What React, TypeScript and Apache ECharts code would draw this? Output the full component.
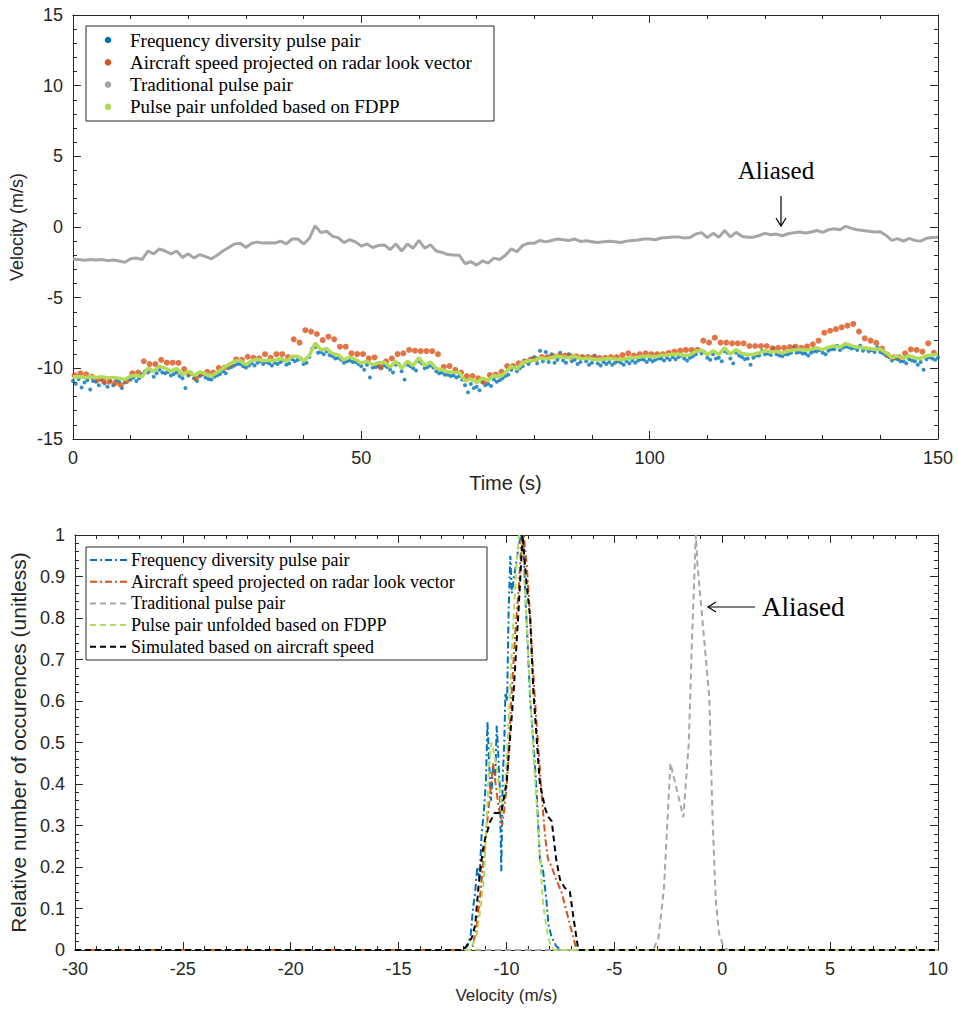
import React, { useEffect, useRef } from "react";
import * as echarts from "echarts";

// ---------- Top panel: velocity time series ----------
// Traditional pulse pair (aliased), one value per second, t = 0..150 s
const traditionalVel = [
  -2.29, -2.3, -2.35, -2.3, -2.34, -2.3, -2.38, -2.34, -2.4, -2.5,
  -2.25, -2.2, -2.3, -1.7, -1.9, -1.55, -1.7, -1.9, -1.7, -2.15,
  -1.9, -2.2, -1.95, -2.1, -2.25, -2.0, -1.7, -1.45, -1.2, -1.15,
  -1.45, -1.15, -1.07, -1.14, -1.12, -1.14, -1.0, -1.2, -0.85, -0.85,
  -1.2, -0.8, 0.1, -0.4, -0.3, -0.65, -0.75, -1.1, -0.9, -1.05,
  -1.35, -1.2, -1.45, -1.3, -1.27, -1.6, -1.2, -1.7, -1.2, -1.5,
  -0.95, -1.5, -1.25, -1.7, -1.8, -1.95, -1.98, -2.0, -2.6, -2.45,
  -2.7, -2.4, -2.55, -2.2, -2.3, -2.0, -1.55, -1.75, -1.3, -1.15,
  -1.15, -0.95, -1.05, -0.95, -0.85, -0.9, -0.95, -0.85, -1.02, -0.98,
  -1.04, -1.1, -1.04, -1.0, -1.04, -1.1, -1.0, -0.95, -0.92, -0.85,
  -0.85, -0.9, -0.78, -0.75, -0.7, -0.7, -0.78, -0.75, -0.5, -0.4,
  -0.75, -0.45, -0.72, -0.25, -0.7, -0.38, -0.65, -0.72, -0.72, -0.6,
  -0.45, -0.55, -0.5, -0.62, -0.48, -0.4, -0.35, -0.42, -0.35, -0.25,
  -0.38, -0.2, -0.12, -0.2, 0.05, -0.1, -0.2, -0.25, -0.3, -0.35,
  -0.33, -0.6, -0.95, -0.82, -1.0, -0.8, -0.95, -1.0, -0.8, -0.75,
  -0.72,
];

// Pulse pair unfolded based on FDPP, one value per second, t = 0..150 s
const unfoldedVel = [
  -10.59, -10.6, -10.65, -10.6, -10.64, -10.6, -10.68, -10.64, -10.7, -10.8,
  -10.55, -10.5, -10.6, -10.0, -10.2, -9.85, -10.0, -10.2, -10.0, -10.45,
  -10.2, -10.5, -10.25, -10.4, -10.55, -10.3, -10.0, -9.75, -9.5, -9.45,
  -9.75, -9.45, -9.37, -9.44, -9.42, -9.44, -9.3, -9.5, -9.15, -9.15,
  -9.5, -9.1, -8.2, -8.7, -8.6, -8.95, -9.05, -9.4, -9.2, -9.35,
  -9.65, -9.5, -9.75, -9.6, -9.57, -9.9, -9.5, -10.0, -9.5, -9.8,
  -9.25, -9.8, -9.55, -10.0, -10.1, -10.25, -10.28, -10.3, -10.9, -10.75,
  -11.0, -10.7, -10.85, -10.5, -10.6, -10.3, -9.85, -10.05, -9.6, -9.45,
  -9.45, -9.25, -9.35, -9.25, -9.15, -9.2, -9.25, -9.15, -9.32, -9.28,
  -9.34, -9.4, -9.34, -9.3, -9.34, -9.4, -9.3, -9.25, -9.22, -9.15,
  -9.15, -9.2, -9.08, -9.05, -9.0, -9.0, -9.08, -9.05, -8.8, -8.7,
  -9.05, -8.75, -9.02, -8.55, -9.0, -8.68, -8.95, -9.02, -9.02, -8.9,
  -8.75, -8.85, -8.8, -8.92, -8.78, -8.7, -8.65, -8.72, -8.65, -8.55,
  -8.68, -8.5, -8.42, -8.5, -8.25, -8.4, -8.5, -8.55, -8.6, -8.65,
  -8.63, -8.9, -9.25, -9.12, -9.3, -9.1, -9.25, -9.3, -9.1, -9.05,
  -9.02,
];

// Frequency diversity pulse pair, two values per second, t = 0..150 s (step 0.5 s)
const fdppStep = 0.5;
const fdppVel = [
  -10.9, -11.1, -10.75, -11.35, -11.0, -10.85, -11.5, -10.9, -10.95, -11.2,
  -10.8, -11.05, -11.3, -10.9, -11.2, -10.85, -10.95, -11.4, -11.0, -10.75,
  -10.8, -10.65, -10.9, -10.7, -10.4, -10.2, -10.3, -10.15, -10.6, -10.35,
  -10.1, -10.3, -10.35, -10.25, -10.5, -10.4, -10.3, -10.55, -10.7, -11.4,
  -10.5, -10.35, -10.7, -10.9, -10.55, -10.4, -10.65, -10.75, -10.8, -10.6,
  -10.5, -10.4, -10.2, -10.35, -10.0, -9.9, -9.8, -9.7, -9.7, -9.85,
  -9.95, -9.8, -9.65, -9.8, -9.6, -9.5, -9.7, -9.55, -9.65, -9.8,
  -9.6, -9.7, -9.55, -9.45, -9.75, -9.65, -9.35, -9.5, -9.4, -9.3,
  -9.7, -9.6, -9.2, -8.6, -8.5, -8.9, -8.85, -9.0, -8.8, -9.05,
  -9.15, -9.3, -9.25, -9.4, -9.6, -9.5, -9.45, -9.55, -9.55, -9.7,
  -9.85, -10.1, -9.75, -10.65, -9.95, -9.9, -9.85, -10.0, -9.8, -9.9,
  -10.1, -10.3, -9.75, -9.7, -10.2, -10.8, -9.75, -9.85, -10.0, -10.15,
  -9.5, -9.65, -10.0, -9.9, -9.8, -9.95, -10.2, -10.35, -10.3, -10.45,
  -10.45, -10.55, -10.5, -10.65, -10.55, -10.8, -11.2, -11.7, -11.1, -11.4,
  -11.3, -11.55, -11.0, -11.2, -11.1, -11.25, -10.8, -10.95, -10.85, -10.7,
  -10.55, -10.45, -10.1, -9.9, -10.2, -10.0, -9.85, -9.5, -9.7, -9.3,
  -9.2, -9.65, -8.75, -9.5, -8.85, -9.55, -9.0, -9.6, -9.4, -8.9,
  -9.45, -9.6, -9.0, -9.5, -9.4, -9.7, -9.55, -9.2, -9.5, -9.75,
  -9.6, -9.1, -9.65, -9.8, -9.55, -9.7, -9.55, -9.75, -9.6, -9.5,
  -9.6, -9.75, -9.5, -9.65, -9.45, -9.6, -9.45, -9.35, -9.4, -9.55,
  -9.35, -9.5, -9.4, -9.3, -9.3, -9.45, -9.25, -9.4, -9.2, -9.35,
  -9.2, -9.1, -9.3, -9.45, -9.25, -9.15, -9.0, -8.7, -8.95, -8.85,
  -9.25, -9.4, -9.0, -9.3, -9.25, -9.5, -8.8, -8.9, -9.3, -9.65,
  -8.9, -9.1, -9.2, -9.35, -9.3, -9.75, -9.25, -9.1, -9.1, -8.75,
  -9.0, -8.95, -9.05, -8.6, -9.0, -9.1, -9.15, -9.0, -9.0, -8.9,
  -8.5, -8.9, -8.85, -8.95, -8.95, -9.1, -8.9, -8.8, -8.8, -8.7,
  -8.9, -9.0, -8.75, -8.65, -8.65, -8.4, -8.7, -8.55, -8.45, -8.5,
  -8.6, -8.55, -8.7, -8.4, -8.75, -8.6, -8.8, -8.7, -8.85, -8.5,
  -8.85, -8.95, -9.1, -9.2, -9.45, -9.3, -9.35, -9.5, -9.5, -9.65,
  -9.35, -9.45, -9.5, -9.75, -9.55, -10.1, -9.35, -9.2, -9.3, -9.4,
  -9.25,
];

// Aircraft speed projected on radar look vector, one value per second, t = 0.3 + i
const aircraftStart = 0.3;
const aircraftVel = [
  -10.5, -10.35, -10.42, -10.6, -10.8, -10.9, -10.95, -11.05, -11.18, -10.9,
  -10.35, -10.3, -9.5, -9.7, -9.7, -9.4, -9.6, -9.6, -9.62, -10.05,
  -10.35, -10.7, -10.4, -10.24, -10.3, -9.97, -9.95, -9.75, -9.37, -9.4,
  -9.18, -9.25, -9.3, -9.0, -9.25, -9.0, -9.0, -9.2, -7.95, -8.18,
  -7.3, -7.4, -7.57, -8.0, -7.76, -7.95, -8.47, -8.47, -8.94, -8.99,
  -8.99, -9.3, -9.23, -9.9, -9.5, -9.3, -8.99, -8.94, -8.7, -8.75,
  -8.78, -8.78, -8.78, -9.0, -9.9, -9.84, -10.1, -10.3, -10.55, -10.55,
  -10.7, -10.95, -10.48, -10.45, -10.24, -9.84, -9.84, -9.65, -9.5, -9.4,
  -9.35, -9.2, -9.2, -9.15, -9.1, -9.1, -9.15, -9.15, -9.2, -9.2,
  -9.2, -9.25, -9.25, -9.2, -9.2, -9.06, -8.94, -9.1, -9.0, -8.94,
  -9.0, -9.0, -9.0, -8.9, -8.82, -8.75, -8.7, -8.7, -8.7, -8.04,
  -8.18, -7.83, -8.18, -8.18, -8.23, -8.23, -8.23, -8.42, -8.42, -8.42,
  -8.42, -8.59, -8.55, -8.55, -8.5, -8.47, -8.55, -8.45, -8.3, -8.04,
  -7.48, -7.34, -7.22, -7.1, -6.98, -6.86, -7.4, -7.88, -8.04, -8.2,
  -8.6, -9.06, -9.22, -9.2, -8.94, -8.66, -8.7, -8.82, -8.23, -8.9,
];

// ---------- Bottom panel: histograms [velocity, relative occurrences] ----------
const fdppHist = [
  [-30, 0], [-12.0, 0], [-11.8, 0.01], [-11.65, 0.04], [-11.55, 0.1], [-11.45, 0.14],
  [-11.35, 0.2], [-11.25, 0.17], [-11.15, 0.28], [-11.05, 0.33], [-10.95, 0.41],
  [-10.88, 0.55], [-10.8, 0.45], [-10.72, 0.36], [-10.62, 0.44], [-10.52, 0.42],
  [-10.45, 0.54], [-10.38, 0.47], [-10.3, 0.38], [-10.24, 0.19], [-10.17, 0.42],
  [-10.1, 0.5], [-10.05, 0.62], [-9.97, 0.6], [-9.9, 0.82], [-9.82, 0.95],
  [-9.75, 0.86], [-9.65, 0.9], [-9.55, 0.93], [-9.45, 0.97], [-9.32, 1.0],
  [-9.22, 0.98], [-9.12, 0.85], [-9.0, 0.72], [-8.9, 0.6], [-8.75, 0.5],
  [-8.6, 0.38], [-8.45, 0.22], [-8.3, 0.19], [-8.15, 0.12], [-8.05, 0.06],
  [-7.9, 0.03], [-7.7, 0.01], [-7.5, 0], [10, 0],
];
const aircraftHist = [
  [-30, 0], [-11.6, 0], [-11.4, 0.05], [-11.2, 0.14], [-11.0, 0.25], [-10.85, 0.33],
  [-10.75, 0.38], [-10.62, 0.45], [-10.5, 0.4], [-10.38, 0.35], [-10.2, 0.3],
  [-10.1, 0.34], [-9.98, 0.4], [-9.8, 0.58], [-9.6, 0.76], [-9.42, 0.88],
  [-9.3, 0.99], [-9.2, 1.0], [-9.05, 0.92], [-8.9, 0.8], [-8.8, 0.7],
  [-8.65, 0.58], [-8.5, 0.47], [-8.35, 0.36], [-8.2, 0.27], [-8.08, 0.22],
  [-7.9, 0.2], [-7.7, 0.17], [-7.45, 0.14], [-7.2, 0.09], [-6.95, 0.04],
  [-6.75, 0], [10, 0],
];
const traditionalHist = [
  [-30, 0], [-3.2, 0], [-2.95, 0.03], [-2.7, 0.15], [-2.55, 0.3], [-2.4, 0.45],
  [-1.8, 0.32], [-1.55, 0.5], [-1.4, 0.75], [-1.22, 1.0], [-1.15, 0.93],
  [-0.6, 0.61], [-0.45, 0.32], [-0.3, 0.12], [-0.15, 0.04], [0.05, 0.01],
  [0.25, 0], [10, 0],
];
const unfoldedHist = [
  [-30, 0], [-11.7, 0], [-11.4, 0.03], [-11.2, 0.1], [-11.05, 0.17], [-10.9, 0.33],
  [-10.8, 0.45], [-10.7, 0.5], [-10.6, 0.48], [-10.45, 0.44], [-10.3, 0.38],
  [-10.2, 0.33], [-10.05, 0.4], [-9.95, 0.5], [-9.75, 0.72], [-9.55, 0.92],
  [-9.42, 1.0], [-9.3, 0.99], [-9.2, 0.94], [-9.0, 0.72], [-8.75, 0.47],
  [-8.5, 0.27], [-8.3, 0.11], [-8.1, 0.04], [-7.95, 0.01], [-7.8, 0], [10, 0],
];
const simulatedHist = [
  [-30, 0], [-12.0, 0], [-11.85, 0.01], [-11.6, 0.03], [-11.45, 0.06], [-11.3, 0.15],
  [-11.1, 0.24], [-10.98, 0.27], [-10.75, 0.31], [-10.55, 0.33], [-10.25, 0.33],
  [-10.0, 0.4], [-9.85, 0.5], [-9.67, 0.62], [-9.45, 0.81], [-9.25, 1.0],
  [-9.1, 0.9], [-8.9, 0.8], [-8.75, 0.62], [-8.45, 0.4], [-8.2, 0.34],
  [-8.05, 0.32], [-7.9, 0.31], [-7.7, 0.22], [-7.52, 0.17], [-7.3, 0.15],
  [-7.06, 0.14], [-6.9, 0.08], [-6.67, 0], [10, 0],
];

const seriesNames = [
  "Frequency diversity pulse pair",
  "Aircraft speed projected on radar look vector",
  "Traditional pulse pair",
  "Pulse pair unfolded based on FDPP",
  "Simulated based on aircraft speed",
];

const BLUE = "#0072BD";
const ORANGE = "#D95319";
const GRAY = "#A6A6A6";
const GREEN = "#B2DC57";
const BLACK = "#000000";
const AXIS = "#262626";
const SANS = "'Liberation Sans', Arial, Helvetica, sans-serif";
const SERIF = "'Liberation Serif', 'Times New Roman', serif";

const DASH = [6, 4];
const DASHDOT = [7, 3, 2, 3];

function axisBase(extra: any) {
  return {
    axisLine: { show: true, onZero: false, lineStyle: { color: AXIS, width: 1 } },
    axisTick: { show: true, inside: true, length: 8, lineStyle: { color: AXIS } },
    minorTick: { show: true, splitNumber: 5, length: 4, lineStyle: { color: AXIS } },
    splitLine: { show: false },
    axisLabel: { color: AXIS, fontSize: 18, fontFamily: SANS, margin: 10 },
    ...extra,
  };
}
function mirrorAxis(extra: any) {
  return axisBase({ ...extra, axisLabel: { show: false } });
}

export default function App() {
  const ref = useRef<HTMLDivElement>(null);
  useEffect(() => {
    document.body.style.margin = "0";
    if (!ref.current) return;
    const chart = echarts.init(ref.current, undefined, { renderer: "svg" });

    const topLegendRows = [0, 1, 2, 3];
    const topColors = [BLUE, ORANGE, GRAY, GREEN];
    const botColors = [BLUE, ORANGE, GRAY, GREEN, BLACK];
    const botDash = [DASHDOT, DASHDOT, DASH, DASH, DASH];

    const graphic: any[] = [
      {
        type: "rect", z: 100,
        shape: { x: 86, y: 26, width: 408, height: 95 },
        style: { fill: "#fff", stroke: AXIS, lineWidth: 1 },
      },
      ...topLegendRows.flatMap((i) => [
        { type: "circle", z: 101, shape: { cx: 108, cy: 40 + i * 22.3, r: 3.3 }, style: { fill: topColors[i] } },
        {
          type: "text", z: 101, x: 130, y: 40 + i * 22.3,
          style: { text: seriesNames[i], font: `19px ${SERIF}`, fill: "#000", verticalAlign: "middle", align: "left" },
        },
      ]),
      {
        type: "rect", z: 100,
        shape: { x: 86, y: 547, width: 401, height: 113 },
        style: { fill: "#fff", stroke: AXIS, lineWidth: 1 },
      },
      ...[0, 1, 2, 3, 4].flatMap((i) => [
        {
          type: "line", z: 101,
          shape: { x1: 90, y1: 560 + i * 21.7, x2: 127, y2: 560 + i * 21.7 },
          style: { stroke: botColors[i], lineWidth: 2, lineDash: botDash[i] },
        },
        {
          type: "text", z: 101, x: 131, y: 560 + i * 21.7,
          style: { text: seriesNames[i], font: `18px ${SERIF}`, fill: "#000", verticalAlign: "middle", align: "left" },
        },
      ]),
      // annotation: top
      {
        type: "text", z: 101, x: 776, y: 170,
        style: { text: "Aliased", font: `25px ${SERIF}`, fill: "#000", align: "center", verticalAlign: "middle" },
      },
      { type: "line", z: 101, shape: { x1: 781, y1: 196, x2: 781, y2: 226 }, style: { stroke: "#000", lineWidth: 1.2 } },
      { type: "polyline", z: 101, shape: { points: [[776, 218], [781, 226], [786, 218]] }, style: { stroke: "#000", lineWidth: 1.2, fill: "none" } },
      // annotation: bottom
      {
        type: "text", z: 101, x: 762, y: 607,
        style: { text: "Aliased", font: `27px ${SERIF}`, fill: "#000", align: "left", verticalAlign: "middle" },
      },
      { type: "line", z: 101, shape: { x1: 708, y1: 607, x2: 755, y2: 607 }, style: { stroke: "#000", lineWidth: 1.2 } },
      { type: "polyline", z: 101, shape: { points: [[716, 602], [708, 607], [716, 612]] }, style: { stroke: "#000", lineWidth: 1.2, fill: "none" } },
    ];

    const option: any = {
      animation: false,
      backgroundColor: "#fff",
      grid: [
        { left: 71, top: 15, width: 867, height: 424, containLabel: false },
        { left: 71, top: 535, width: 867, height: 415, containLabel: false },
      ],
      xAxis: [
        axisBase({
          type: "value", gridIndex: 0, min: 0, max: 150, interval: 50, position: "bottom",
          name: "Time (s)", nameLocation: "middle", nameGap: 34,
          nameTextStyle: { color: AXIS, fontSize: 20, fontFamily: SANS },
        }),
        mirrorAxis({ type: "value", gridIndex: 0, min: 0, max: 150, interval: 50, position: "top" }),
        axisBase({
          type: "value", gridIndex: 1, min: -30, max: 10, interval: 5, position: "bottom",
          name: "Velocity (m/s)", nameLocation: "middle", nameGap: 37,
          nameTextStyle: { color: AXIS, fontSize: 17, fontFamily: SANS },
        }),
        mirrorAxis({ type: "value", gridIndex: 1, min: -30, max: 10, interval: 5, position: "top" }),
      ],
      yAxis: [
        axisBase({
          type: "value", gridIndex: 0, min: -15, max: 15, interval: 5, position: "left",
          name: "Velocity (m/s)", nameLocation: "middle", nameGap: 36, nameRotate: 90,
          nameTextStyle: { color: AXIS, fontSize: 18, fontFamily: SANS },
        }),
        mirrorAxis({ type: "value", gridIndex: 0, min: -15, max: 15, interval: 5, position: "right" }),
        axisBase({
          type: "value", gridIndex: 1, min: 0, max: 1, interval: 0.1, position: "left",
          name: "Relative number of occurences (unitless)", nameLocation: "middle", nameGap: 38, nameRotate: 90,
          nameTextStyle: { color: AXIS, fontSize: 21, fontFamily: SANS },
          axisLabel: {
            color: AXIS, fontSize: 18, fontFamily: SANS, margin: 10,
            formatter: (v: number) => String(Math.round(v * 10) / 10),
          },
        }),
        mirrorAxis({ type: "value", gridIndex: 1, min: 0, max: 1, interval: 0.1, position: "right" }),
      ],
      graphic,
      series: [
        {
          name: seriesNames[0], type: "scatter", xAxisIndex: 0, yAxisIndex: 0,
          data: fdppVel.map((v, i) => [i * fdppStep, v]),
          symbolSize: 4, itemStyle: { color: BLUE }, clip: true,
        },
        {
          name: seriesNames[1], type: "scatter", xAxisIndex: 0, yAxisIndex: 0,
          data: aircraftVel.map((v, i) => [aircraftStart + i, v]),
          symbolSize: 6, itemStyle: { color: ORANGE }, clip: true,
        },
        {
          name: seriesNames[2], type: "line", xAxisIndex: 0, yAxisIndex: 0,
          data: traditionalVel.map((v, i) => [i, v]),
          showSymbol: false, symbol: "none", lineStyle: { color: GRAY, width: 3 }, clip: true,
        },
        {
          name: seriesNames[3], type: "line", xAxisIndex: 0, yAxisIndex: 0,
          data: unfoldedVel.map((v, i) => [i, v]),
          showSymbol: false, symbol: "none", lineStyle: { color: GREEN, width: 3.5 }, clip: true,
        },
        {
          name: seriesNames[0] + " ", type: "line", xAxisIndex: 2, yAxisIndex: 2, data: fdppHist,
          showSymbol: false, symbol: "none", lineStyle: { color: BLUE, width: 2, type: DASHDOT }, clip: true,
        },
        {
          name: seriesNames[1] + " ", type: "line", xAxisIndex: 2, yAxisIndex: 2, data: aircraftHist,
          showSymbol: false, symbol: "none", lineStyle: { color: ORANGE, width: 2, type: DASHDOT }, clip: true,
        },
        {
          name: seriesNames[2] + " ", type: "line", xAxisIndex: 2, yAxisIndex: 2, data: traditionalHist,
          showSymbol: false, symbol: "none", lineStyle: { color: GRAY, width: 2, type: DASH }, clip: true,
        },
        {
          name: seriesNames[3] + " ", type: "line", xAxisIndex: 2, yAxisIndex: 2, data: unfoldedHist,
          showSymbol: false, symbol: "none", lineStyle: { color: GREEN, width: 2, type: DASH }, clip: true,
        },
        {
          name: seriesNames[4], type: "line", xAxisIndex: 2, yAxisIndex: 2, data: simulatedHist,
          showSymbol: false, symbol: "none", lineStyle: { color: BLACK, width: 2, type: DASH }, clip: true,
        },
      ],
    };
    chart.setOption(option);
    return () => chart.dispose();
  }, []);
  return <div ref={ref} style={{ width: 958, height: 1009 }} />;
}
